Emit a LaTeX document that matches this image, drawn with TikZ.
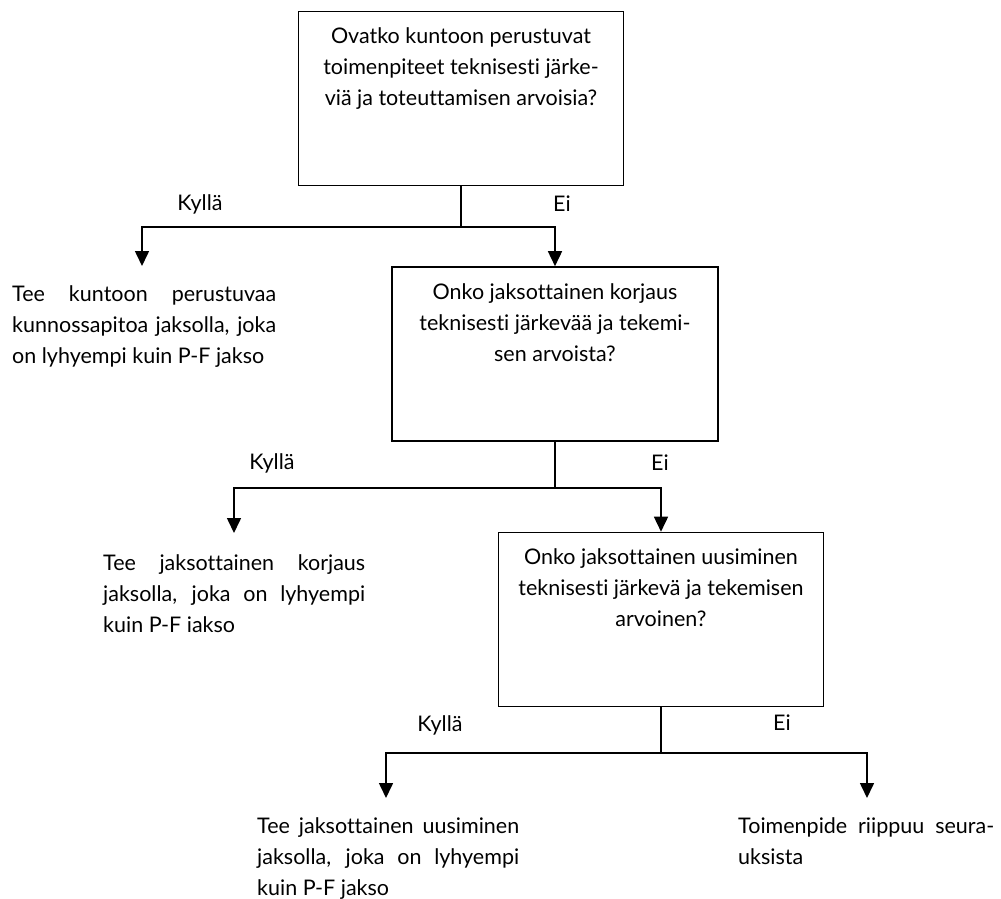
\documentclass[tikz,border=0pt]{standalone}
\usepackage{fontspec}
\setmainfont{Lato}[Ligatures={NoCommon}]
\usetikzlibrary{arrows.meta}
\begin{document}
\begin{tikzpicture}[x=1pt,y=-1pt,
  txt/.style={inner sep=0pt,font=\fontsize{21.5}{31}\selectfont},
  qbox/.style={draw,line width=1.6pt,minimum width=325pt,minimum height=174pt,inner sep=0pt},
  qtext/.style={txt,align=center,anchor=north},
  ltext/.style={txt,align=left,anchor=north west},
  lbl/.style={txt},
  conn/.style={line width=1.6pt},
  arr/.style={conn,-{Triangle[width=14pt,length=15pt]}}
]
\useasboundingbox (0,0) rectangle (1001,899);

% boxes
\node[qbox] (b1) at (461,98.5) {};
\node[qbox,minimum width=326pt] (b2) at (555,354) {};
\node[qbox] (b3) at (661,619.5) {};

\node[qtext] (t1) at ([yshift=-17pt]b1.north) {Ovatko kuntoon perustuvat\\toimenpiteet teknisesti järke-\\viä ja toteuttamisen arvoisia?};
\node[qtext] (t2) at ([yshift=-17pt]b2.north) {Onko jaksottainen korjaus\\teknisesti järkevää ja tekemi-\\sen arvoista?};
\node[qtext] (t3) at ([yshift=-17pt]b3.north) {Onko jaksottainen uusiminen\\teknisesti järkevä ja tekemisen\\arvoinen?};

% answers
\node[ltext] (a1) at (12,285) {\makebox[264pt][s]{Tee kuntoon perustuvaa}\\\makebox[264pt][s]{kunnossapitoa jaksolla, joka}\\on lyhyempi kuin P-F jakso};
\node[ltext] (a2) at (103,554) {\makebox[262pt][s]{Tee jaksottainen korjaus}\\\makebox[262pt][s]{jaksolla, joka on lyhyempi}\\kuin P-F iakso};
\node[ltext] (a3) at (257,817) {\makebox[262pt][s]{Tee jaksottainen uusiminen}\\\makebox[262pt][s]{jaksolla, joka on lyhyempi}\\kuin P-F jakso};
\node[ltext] (a4) at (738,817) {\makebox[256pt][s]{Toimenpide riippuu seura-}\\uksista};

% connector coordinates
\coordinate (j1) at (461,227);
\coordinate (k1) at (142,266);
\coordinate (j2) at (555,488);
\coordinate (k2) at (234,533);
\coordinate (j3) at (661,753);
\coordinate (k3) at (386,798);
\coordinate (e3) at (867,798);

\draw[conn] (b1.south) -- (j1);
\draw[arr] (j1) -| (k1);
\draw[arr] (j1) -| (b2.north);
\draw[conn] (b2.south) -- (j2);
\draw[arr] (j2) -| (k2);
\draw[arr] (j2) -| (b3.north);
\draw[conn] (b3.south) -- (j3);
\draw[arr] (j3) -| (k3);
\draw[arr] (j3) -| (e3);

% labels
\node[lbl] (y1) at (200,204) {Kyllä};
\node[lbl] (n1) at (562,204) {Ei};
\node[lbl] (y2) at (272,463) {Kyllä};
\node[lbl] (n2) at (660,463) {Ei};
\node[lbl] (y3) at (440,725) {Kyllä};
\node[lbl] (n3) at (782,723) {Ei};
\end{tikzpicture}
\end{document}
